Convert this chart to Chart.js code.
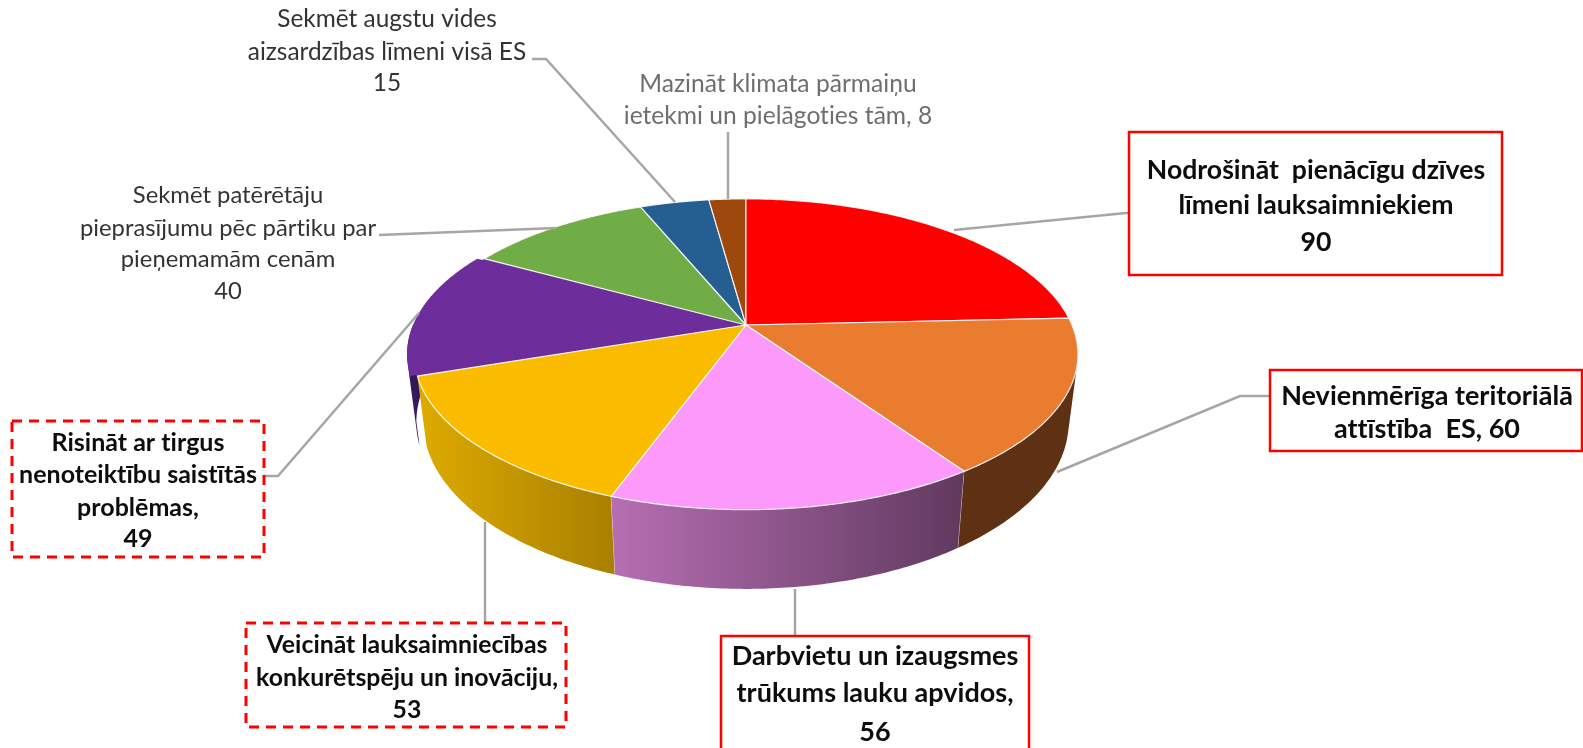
<!DOCTYPE html>
<html><head><meta charset="utf-8">
<style>html,body{margin:0;padding:0;background:#fff;overflow:hidden}canvas{display:block}</style>
<script src="https://cdn.jsdelivr.net/npm/chart.js@4"></script>
</head><body><canvas id="c" width="1583" height="748"></canvas>
<script>
const categories = [
  'Nodrošināt pienācīgu dzīves līmeni lauksaimniekiem',
  'Nevienmērīga teritoriālā attīstība ES',
  'Darbvietu un izaugsmes trūkums lauku apvidos',
  'Veicināt lauksaimniecības konkurētspēju un inovāciju',
  'Risināt ar tirgus nenoteiktību saistītās problēmas',
  'Sekmēt patērētāju pieprasījumu pēc pārtiku par pieņemamām cenām',
  'Sekmēt augstu vides aizsardzības līmeni visā ES',
  'Mazināt klimata pārmaiņu ietekmi un pielāgoties tām'
];
const values = [90, 60, 56, 53, 49, 40, 15, 8];
const topColors = ['#ff0000','#ea7c30','#fd99fb','#fbbc00','#6d2e9b','#70ad47','#255e91','#9e480e'];
const wallStart = ['#990000','#5e3114','#b56eb2','#dba900','#32175a','#43682b','#163857','#5f2b08'];
const wallEnd   = ['#990000','#5e3114','#623a60','#a97f00','#32175a','#43682b','#163857','#5f2b08'];
const labelLines = [
  ['Nodrošināt  pienācīgu dzīves','līmeni lauksaimniekiem','90'],
  ['Nevienmērīga teritoriālā','attīstība  ES, 60'],
  ['Darbvietu un izaugsmes','trūkums lauku apvidos,','56'],
  ['Veicināt lauksaimniecības','konkurētspēju un inovāciju,','53'],
  ['Risināt ar tirgus','nenoteiktību saistītās','problēmas,','49'],
  ['Sekmēt patērētāju','pieprasījumu pēc pārtiku par','pieņemamām cenām','40'],
  ['Sekmēt augstu vides','aizsardzības līmeni visā ES','15'],
  ['Mazināt klimata pārmaiņu','ietekmi un pielāgoties tām, 8']
];
const labelStyle = [
  {cx:1316, ys:[170,205,242], bold:true, size:26.6, box:[1129,132,373,143], dash:false, leader:[[954,230],[1126,213],[1129,213]]},
  {cx:1427, ys:[396,429], bold:true, size:27, box:[1270,370,312,81], dash:false, leader:[[1057,472],[1240,396],[1270,396]]},
  {cx:875, ys:[656,693,732], bold:true, size:27, box:[721,636,308,140], dash:false, leader:[[795,589],[795,636]]},
  {cx:407, ys:[645,678,710], bold:true, size:24.8, box:[246,623,320,104], dash:true, leader:[[485,522],[485,623]]},
  {cx:138, ys:[443,475,508,539], bold:true, size:25, box:[12,421,252,136], dash:true, leader:[[264,476],[278,476],[419,313]]},
  {cx:228, ys:[195,228,259,291], bold:false, size:23.8, color:'#333333', leader:[[379,235],[556,228]]},
  {cx:387, ys:[19,52,83], bold:false, size:24.4, color:'#333333', leader:[[532,59],[546,59],[675,202]]},
  {cx:778, ys:[84,116], bold:false, size:24.6, color:'#6e6e6e', leader:[[728,132],[728,199]]}
];
const PERSP = 0.1883;
function project(el, theta, bottom, dx) {
  const u = Math.sin(theta), v = Math.cos(theta), den = 1 + PERSP * v;
  const R = el.outerRadius * (bottom ? 0.975 : 1.003);
  const a = bottom ? -87 : -88.7, b = el.y + (bottom ? 66 : 0);
  return [el.x + (dx || 0) + R * u / den, (a * v + b) / den];
}
const shift = [0,0,0,0,-7,0,0,0];
const pie3d = {
  id: 'pie3d',
  beforeDatasetsDraw(chart) {
    const ctx = chart.ctx, arcs = chart.getDatasetMeta(0).data;
    const range = el => [el.startAngle + Math.PI/2, el.endAngle + Math.PI/2];
    const apexY = el => project(el, Math.PI/2, false)[1];
    // walls, back to front
    [4,3,2,1].forEach(i => {
      const el = arcs[i]; let [s,e] = range(el);
      s = Math.max(s, Math.PI/2); e = Math.min(e, 3*Math.PI/2);
      if (e <= s) return;
      const n = 80, x0 = project(el,e,true,shift[i])[0], x1 = project(el,s,true,shift[i])[0];
      const g = ctx.createLinearGradient(x0,0,x1,0);
      g.addColorStop(0, wallStart[i]); g.addColorStop(1, wallEnd[i]);
      ctx.beginPath();
      for (let k = 0; k < n; k++) {
        const t0 = s + (e-s)*k/n, t1 = s + (e-s)*(k+1)/n;
        let p = [project(el,t0,false,shift[i]),project(el,t1,false,shift[i]),project(el,t1,true,shift[i]),project(el,t0,true,shift[i])];
        let area = 0;
        p.forEach((q,j) => { const r = p[(j+1)%4]; area += q[0]*r[1] - r[0]*q[1]; });
        if (area < 0) p = p.reverse();
        ctx.moveTo(p[0][0],p[0][1]); p.slice(1).forEach(q => ctx.lineTo(q[0],q[1])); ctx.closePath();
      }
      ctx.fillStyle = g; ctx.fill('nonzero');
      if (i !== 4) {
        const a = project(el,s,false), b = project(el,s,true);
        ctx.beginPath(); ctx.moveTo(a[0],a[1]); ctx.lineTo(b[0],b[1]);
        ctx.strokeStyle = 'rgba(255,255,255,0.6)'; ctx.lineWidth = 1; ctx.stroke();
      }
    });
    const face = (el, s, e, dx) => {
      const n = 120;
      ctx.beginPath(); ctx.moveTo(el.x + dx, apexY(el));
      for (let k = 0; k <= n; k++) {
        const p = project(el, s + (e-s)*k/n, false, dx);
        ctx.lineTo(p[0],p[1]);
      }
      ctx.closePath();
    };
    // top faces; the pulled-out slice also fills its original place
    [4,5,6,7,0,1,2,3].forEach(i => {
      const el = arcs[i], [s,e] = range(el);
      ctx.fillStyle = el.options.backgroundColor;
      if (shift[i]) { face(el, s, e, 0); ctx.fill(); }
      face(el, s, e, shift[i]);
      ctx.fill();
      ctx.strokeStyle = 'rgba(255,255,255,0.85)'; ctx.lineWidth = 1.2;
      if (!shift[i]) ctx.stroke();
    });
    return false;
  },
  afterDraw(chart) {
    const ctx = chart.ctx;
    ctx.save();
    labelStyle.forEach((st,i) => {
      ctx.strokeStyle = '#a6a6a6'; ctx.lineWidth = 2.5; ctx.setLineDash([]);
      ctx.beginPath(); st.leader.forEach((p,k) => k ? ctx.lineTo(p[0],p[1]) : ctx.moveTo(p[0],p[1])); ctx.stroke();
      if (st.box) {
        ctx.fillStyle = '#ffffff';
        ctx.fillRect(st.box[0],st.box[1],st.box[2],st.box[3]);
        ctx.strokeStyle = '#ff0000'; ctx.lineWidth = st.dash ? 3 : 2.5;
        ctx.setLineDash(st.dash ? [10,7] : []);
        ctx.strokeRect(st.box[0],st.box[1],st.box[2],st.box[3]);
        ctx.setLineDash([]);
      }
      ctx.fillStyle = st.color || '#0d0d0d';
      ctx.font = (st.bold ? 'bold ' : '') + st.size + 'px Lato, Carlito, sans-serif';
      ctx.letterSpacing = '0.01px';
      ctx.textAlign = 'center'; ctx.textBaseline = 'middle';
      labelLines[i].forEach((t,k) => ctx.fillText(t, st.cx, st.ys[k]));
    });
    ctx.restore();
  }
};
new Chart(document.getElementById('c'), {
  type: 'pie',
  data: { labels: categories, datasets: [{ data: values, backgroundColor: topColors, borderWidth: 0 }] },
  options: {
    responsive: false, animation: false,
    layout: { padding: { left: 0, top: 0, right: 91, bottom: 98 } },
    plugins: { legend: { display: false }, tooltip: { enabled: false } }
  },
  plugins: [pie3d]
});
</script></body></html>
